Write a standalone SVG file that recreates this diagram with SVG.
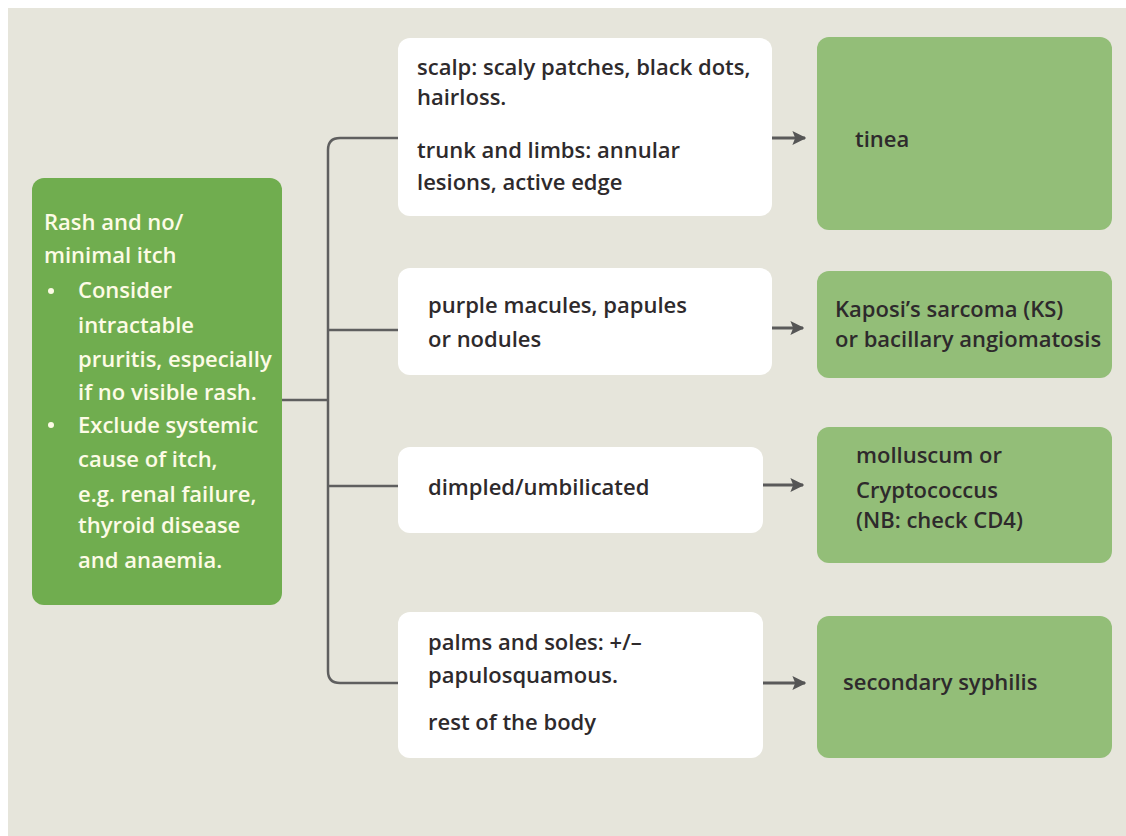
<svg xmlns="http://www.w3.org/2000/svg" width="1126" height="836" viewBox="0 0 1126 836">
  <defs>
    <marker id="arrow" viewBox="0 0 10 10" refX="9" refY="5" markerWidth="14" markerHeight="16" markerUnits="userSpaceOnUse" orient="auto">
      <path d="M0,0 L10,5 L0,10 L2,5 z" fill="#555555"/>
    </marker>
    <style>
      .t { font-family: "Open Sans", "Liberation Sans", sans-serif; font-size: 22px; font-weight: 600; }
      .dark { fill: #2e2a2c; }
      .light { fill: #fdfbe6; }
      .white { fill: #ffffff; }
      .green { fill: #70ad4f; }
      .pale { fill: #93be78; }
      .line { fill: none; stroke: #5f5f5f; stroke-width: 2.5; }
      .arr { fill: none; stroke: #5a5a5a; stroke-width: 3; }
    </style>
  </defs>

  <rect x="0" y="0" width="1126" height="836" fill="#ffffff"/>
  <rect x="8" y="8" width="1118" height="828" fill="#e6e5db"/>

  <!-- connectors -->
  <g id="connectors">
    <path class="line" d="M282,400 H328"/>
    <path class="line" d="M398,138 H340 Q328,138 328,150 V671 Q328,683 340,683 H398"/>
    <path class="line" d="M328,330 H398"/>
    <path class="line" d="M328,486 H398"/>
    <path class="arr" d="M772,138 H805" marker-end="url(#arrow)"/>
    <path class="arr" d="M772,328 H803" marker-end="url(#arrow)"/>
    <path class="arr" d="M763,485 H803" marker-end="url(#arrow)"/>
    <path class="arr" d="M763,683 H805" marker-end="url(#arrow)"/>
  </g>

  <!-- start node -->
  <g id="start">
    <rect class="green" x="32" y="178" width="250" height="427" rx="12"/>
    <text class="t light">
      <tspan x="44" y="230">Rash and no/</tspan>
      <tspan x="44" y="263">minimal itch</tspan>
      <tspan x="78" y="298">Consider</tspan>
      <tspan x="78" y="333">intractable</tspan>
      <tspan x="78" y="367">pruritis, especially</tspan>
      <tspan x="78" y="400">if no visible rash.</tspan>
      <tspan x="78" y="433">Exclude systemic</tspan>
      <tspan x="78" y="467">cause of itch,</tspan>
      <tspan x="78" y="502">e.g. renal failure,</tspan>
      <tspan x="78" y="533">thyroid disease</tspan>
      <tspan x="78" y="568">and anaemia.</tspan>
    </text>
    <circle class="light" cx="51" cy="291" r="3"/>
    <circle class="light" cx="51" cy="425" r="3"/>
  </g>

  <!-- findings -->
  <g id="finding-tinea">
    <rect class="white" x="398" y="38" width="374" height="178" rx="12"/>
    <text class="t dark">
      <tspan x="417" y="75">scalp: scaly patches, black dots,</tspan>
      <tspan x="417" y="105">hairloss.</tspan>
      <tspan x="417" y="158">trunk and limbs: annular</tspan>
      <tspan x="417" y="190">lesions, active edge</tspan>
    </text>
  </g>

  <g id="finding-ks">
    <rect class="white" x="398" y="268" width="374" height="107" rx="12"/>
    <text class="t dark">
      <tspan x="428" y="313">purple macules, papules</tspan>
      <tspan x="428" y="347">or nodules</tspan>
    </text>
  </g>

  <g id="finding-molluscum">
    <rect class="white" x="398" y="447" width="365" height="86" rx="12"/>
    <text class="t dark" x="428" y="495">dimpled/umbilicated</text>
  </g>

  <g id="finding-syphilis">
    <rect class="white" x="398" y="612" width="365" height="146" rx="12"/>
    <text class="t dark">
      <tspan x="428" y="650">palms and soles: +/–</tspan>
      <tspan x="428" y="683">papulosquamous.</tspan>
      <tspan x="428" y="730">rest of the body</tspan>
    </text>
  </g>

  <!-- diagnoses -->
  <g id="dx-tinea">
    <rect class="pale" x="817" y="37" width="295" height="193" rx="12"/>
    <text class="t dark" x="855" y="147">tinea</text>
  </g>

  <g id="dx-ks">
    <rect class="pale" x="817" y="271" width="295" height="107" rx="12"/>
    <text class="t dark">
      <tspan x="835" y="317">Kaposi’s sarcoma (KS)</tspan>
      <tspan x="835" y="347">or bacillary angiomatosis</tspan>
    </text>
  </g>

  <g id="dx-molluscum">
    <rect class="pale" x="817" y="427" width="295" height="136" rx="12"/>
    <text class="t dark">
      <tspan x="856" y="463">molluscum or</tspan>
      <tspan x="856" y="498">Cryptococcus</tspan>
      <tspan x="856" y="528">(NB: check CD4)</tspan>
    </text>
  </g>

  <g id="dx-syphilis">
    <rect class="pale" x="817" y="616" width="295" height="142" rx="12"/>
    <text class="t dark" x="843" y="690">secondary syphilis</text>
  </g>
</svg>
